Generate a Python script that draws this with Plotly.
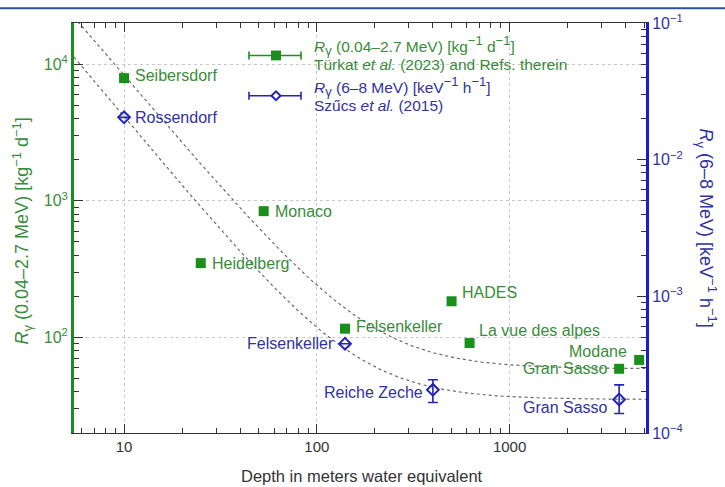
import numpy as np
import plotly.graph_objects as go

# ---------------- data ----------------
green_sites = ["Seibersdorf", "Heidelberg", "Monaco", "Felsenkeller", "HADES",
               "La vue des alpes", "Gran Sasso", "Modane"]
green_depth = [10, 25, 53, 140, 500, 620, 3700, 4700]          # m w.e.
green_rate = [7900, 350, 840, 116, 184, 91, 59, 68.5]           # kg^-1 d^-1

blue_sites = ["Rossendorf", "Felsenkeller", "Reiche Zeche", "Gran Sasso"]
blue_depth = [10, 140, 400, 3700]
blue_rate = [0.0204, 4.5e-4, 2.07e-4, 1.76e-4]                  # keV^-1 h^-1
blue_err_plus = [0, 0, 0.38e-4, 0.49e-4]
blue_err_minus = [0, 0, 0.40e-4, 0.37e-4]

green_band = [55.3, 64.2]
blue_band = [1.28e-4, 2.3e-4]

# fitted trend curves: rate = A * depth^-p + C
fit_green = dict(A=3.687e5, p=1.653, C=59.0)
fit_blue = dict(A=1.0, p=1.69, C=1.76e-4)

x_ticks = [10, 100, 1000]
x_ticklabels = ["10", "100", "1000"]
y_ticks = [100, 1000, 10000]
y_ticklabels = ["10<sup>2</sup>", "10<sup>3</sup>", "10<sup>4</sup>"]
y2_ticks = [1e-4, 1e-3, 1e-2, 1e-1]
y2_ticklabels = ["10<sup>−4</sup>", "10<sup>−3</sup>", "10<sup>−2</sup>", "10<sup>−1</sup>"]

# label placement (pixel offsets from marker), styling only
green_lab = {  # xanchor, xshift, yshift
    "Seibersdorf": ("left", 9, 3), "Heidelberg": ("left", 9, 0), "Monaco": ("left", 9, 0),
    "Felsenkeller": ("left", 9, 2), "HADES": ("left", 8, 9),
    "La vue des alpes": ("left", 7, 13), "Gran Sasso": ("right", -9, 0),
    "Modane": ("right", -10, 8),
}
blue_lab = {
    "Rossendorf": ("left", 9, 0), "Felsenkeller": ("right", -9, 0),
    "Reiche Zeche": ("right", -8, -3), "Gran Sasso": ("right", -9, -8),
}

# ---------------- styling ----------------
W, H = 725, 487
L, R, T, B = 74, 646, 16, 433
GREEN = "#1a8f1a"
GREEN_T = "#3a8c3a"
BLUE = "#2424b8"
BLUE_T = "#3232a0"
AXBLUE = "#1c1cd4"
FONT = "Liberation Sans, Arial, sans-serif"
xrange_ = [np.log10(5.5), np.log10(5100)]


def sup(t, size=13):
    return "<sup><span style='font-size:{}px'>{}</span></sup>".format(size, t)


def sub(t, size=13):
    return "<sub><span style='font-size:{}px'>{}</span></sub>".format(size, t)


RG = "<i>R</i>" + sub("γ")
TITLE_G = RG + " (0.04–2.7 MeV) [kg" + sup("−1") + " d" + sup("−1") + "]"
TITLE_B = RG + " (6–8 MeV) [keV" + sup("−1") + " h" + sup("−1") + "]"


def px(x):
    return (x - L) / (R - L)


def py(y):
    return (B - y) / (B - T)


fig = go.Figure()

# trend curves
d = np.logspace(xrange_[0], xrange_[1], 300)
fig.add_trace(go.Scatter(x=d, y=fit_green["A"] * d ** (-fit_green["p"]) + fit_green["C"],
                         mode="lines", line=dict(color="#6a6a6a", width=1.2, dash="dot"),
                         showlegend=False, hoverinfo="skip", yaxis="y"))
fig.add_trace(go.Scatter(x=d, y=fit_blue["A"] * d ** (-fit_blue["p"]) + fit_blue["C"],
                         mode="lines", line=dict(color="#6a6a6a", width=1.2, dash="dot"),
                         showlegend=False, hoverinfo="skip", yaxis="y2"))

# data points
fig.add_trace(go.Scatter(x=green_depth, y=green_rate, mode="markers",
                         marker=dict(symbol="square", size=10, color=GREEN),
                         showlegend=False, yaxis="y"))
fig.add_trace(go.Scatter(x=blue_depth, y=blue_rate, mode="markers",
                         marker=dict(symbol="diamond-open", size=9, color=BLUE,
                                     line=dict(width=2, color=BLUE)),
                         error_y=dict(type="data", array=blue_err_plus, arrayminus=blue_err_minus,
                                      color=BLUE, thickness=1.6, width=5),
                         showlegend=False, yaxis="y2"))

ann = []
for name, dd, rr in zip(green_sites, green_depth, green_rate):
    xa, xs, ys = green_lab[name]
    ann.append(dict(x=np.log10(dd), y=np.log10(rr), xref="x", yref="y", text=name,
                    showarrow=False, xanchor=xa, yanchor="middle", xshift=xs, yshift=ys,
                    font=dict(size=16, color=GREEN_T, family=FONT)))
for name, dd, rr in zip(blue_sites, blue_depth, blue_rate):
    xa, xs, ys = blue_lab[name]
    ann.append(dict(x=np.log10(dd), y=np.log10(rr), xref="x", yref="y2", text=name,
                    showarrow=False, xanchor=xa, yanchor="middle", xshift=xs, yshift=ys,
                    font=dict(size=16, color=BLUE_T, family=FONT)))

# axis titles
ann.append(dict(x=px(22), y=py(228), xref="paper", yref="paper", textangle=-90,
                xanchor="center", yanchor="middle", text=TITLE_G,
                showarrow=False, font=dict(size=18, color=GREEN_T, family=FONT)))
ann.append(dict(x=px(706), y=py(225), xref="paper", yref="paper", textangle=90,
                xanchor="center", yanchor="middle", text=TITLE_B,
                showarrow=False, font=dict(size=18, color=BLUE_T, family=FONT)))
ann.append(dict(x=px(362), y=py(477), xref="paper", yref="paper",
                xanchor="center", yanchor="middle",
                text="Depth in meters water equivalent",
                showarrow=False, font=dict(size=16.5, color="#333333", family=FONT)))

# legend text
leg = [(TITLE_G, 39, GREEN_T),
       ("Türkat <i>et al.</i> (2023) and Refs. therein", 58, GREEN_T),
       (TITLE_B, 81, BLUE_T),
       ("Szűcs <i>et al.</i> (2015)", 100, BLUE_T)]
for txt, yy, col in leg:
    ann.append(dict(x=px(312), y=py(yy), xref="paper", yref="paper", text=txt,
                    xanchor="left", yanchor="middle", showarrow=False,
                    font=dict(size=15.5, color=col, family=FONT)))

shapes = []
# bands
shapes.append(dict(type="rect", xref="paper", yref="y", x0=0, x1=1,
                   y0=np.log10(green_band[0]), y1=np.log10(green_band[1]),
                   fillcolor="#c9edc9", line=dict(color="#a0a0a0", width=1), layer="below"))
shapes.append(dict(type="rect", xref="paper", yref="y2", x0=0, x1=1,
                   y0=np.log10(blue_band[0]), y1=np.log10(blue_band[1]),
                   fillcolor="#c6c6f6", line=dict(color="#a0a0a0", width=1), layer="below"))

# legend symbols
for yy, col in [(49, GREEN), (90, BLUE)]:
    shapes.append(dict(type="line", xref="paper", yref="paper", x0=px(249), x1=px(301),
                       y0=py(yy), y1=py(yy), line=dict(color=col, width=1.6)))
    for xx in (249, 301):
        shapes.append(dict(type="line", xref="paper", yref="paper", x0=px(xx), x1=px(xx),
                           y0=py(yy - 4), y1=py(yy + 4), line=dict(color=col, width=1.6)))
shapes.append(dict(type="rect", xref="paper", yref="paper", x0=px(271), x1=px(281),
                   y0=py(54), y1=py(44), fillcolor=GREEN, line=dict(width=0)))
cx, cy = 276, 90
path = "M {} {} L {} {} L {} {} L {} {} Z".format(
    px(cx - 4.5), py(cy), px(cx), py(cy - 4.5), px(cx + 4.5), py(cy), px(cx), py(cy + 4.5))
shapes.append(dict(type="path", xref="paper", yref="paper", path=path,
                   fillcolor="white", line=dict(color=BLUE, width=2)))
# top border of the page
shapes.append(dict(type="line", xref="paper", yref="paper", x0=px(0), x1=px(725),
                   y0=py(1), y1=py(1), line=dict(color="#2a5592", width=2)))


def minor_vals(lo, hi):
    out = []
    for e in range(-6, 6):
        for m in range(2, 10):
            v = m * 10.0 ** e
            if lo <= v <= hi:
                out.append(v)
    return out


fig.update_layout(
    width=W, height=H, margin=dict(l=L, r=W - R, t=T, b=H - B),
    paper_bgcolor="white", plot_bgcolor="white",
    font=dict(family=FONT, size=15, color="#333333"),
    showlegend=False, annotations=ann, shapes=shapes,
    xaxis=dict(type="log", range=xrange_, tickvals=x_ticks, ticktext=x_ticklabels,
               ticks="inside", ticklen=9, tickcolor="#333", showline=True, linecolor="#333",
               linewidth=1.2, mirror="ticks", showgrid=True, gridcolor="#c8c8c8",
               griddash="dot", gridwidth=1, zeroline=False,
               tickfont=dict(size=15, color="#333"),
               minor=dict(tickmode="array", tickvals=minor_vals(5.5, 5100), ticks="inside",
                          ticklen=5, tickcolor="#333", showgrid=False)),
    yaxis=dict(type="log", range=[np.log10(20), np.log10(20000)], tickvals=y_ticks,
               ticktext=y_ticklabels, ticks="inside", ticklen=9, tickcolor="#333",
               showline=True, linecolor=GREEN, linewidth=3, showgrid=True,
               gridcolor="#c8c8c8", griddash="dot", gridwidth=1, zeroline=False,
               tickfont=dict(size=16, color=GREEN_T),
               minor=dict(tickmode="array", tickvals=minor_vals(20, 20000), ticks="inside",
                          ticklen=5, tickcolor="#333", showgrid=False)),
    yaxis2=dict(type="log", range=[-4, -1], overlaying="y", side="right",
                tickvals=y2_ticks, ticktext=y2_ticklabels, ticks="inside", ticklen=9,
                tickcolor="#333", showline=True, linecolor=AXBLUE, linewidth=3,
                showgrid=False, zeroline=False, tickfont=dict(size=16, color=BLUE_T),
                minor=dict(tickmode="array", tickvals=minor_vals(1e-4, 1e-1), ticks="inside",
                           ticklen=5, tickcolor="#333", showgrid=False)),
)

fig.write_html("out.html")
